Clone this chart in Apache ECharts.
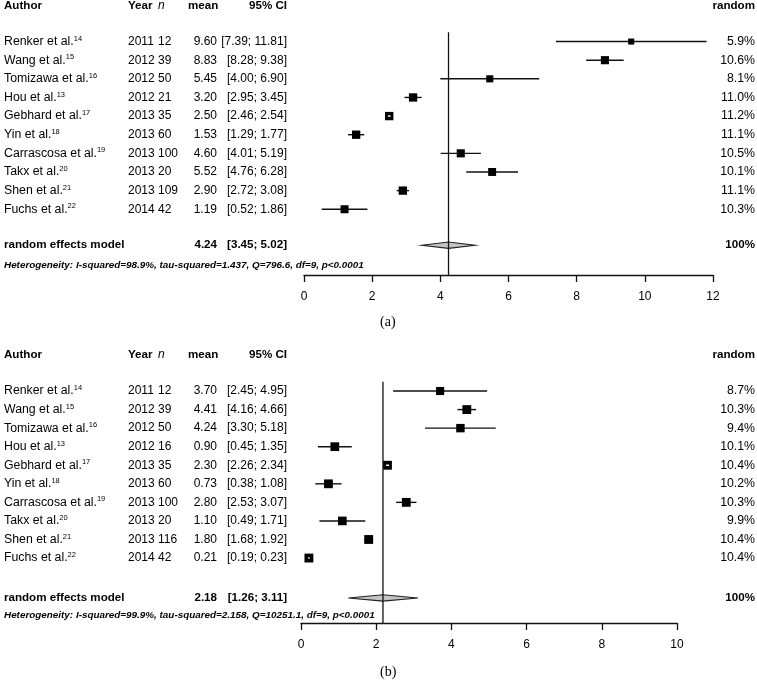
<!DOCTYPE html>
<html><head><meta charset="utf-8">
<script src="https://cdn.jsdelivr.net/npm/echarts@6/dist/echarts.min.js"></script>
<style>html,body{margin:0;padding:0;background:#fff}#c{width:757px;height:680px}</style>
</head><body><div id="c"></div>
<script>
// ---------- data ----------
const authors = ['Renker et al.', 'Wang et al.', 'Tomizawa et al.', 'Hou et al.', 'Gebhard et al.', 'Yin et al.', 'Carrascosa et al.', 'Takx et al.', 'Shen et al.', 'Fuchs et al.'];
const refs = ['14', '15', '16', '13', '17', '18', '19', '20', '21', '22'];
const years = [2011, 2012, 2012, 2012, 2013, 2013, 2013, 2013, 2013, 2014];

// panel (a)
const nA = [12, 39, 50, 21, 35, 60, 100, 20, 109, 42];
const meanA = [9.60, 8.83, 5.45, 3.20, 2.50, 1.53, 4.60, 5.52, 2.90, 1.19];
const lowerA = [7.39, 8.28, 4.00, 2.95, 2.46, 1.29, 4.01, 4.76, 2.72, 0.52];
const upperA = [11.81, 9.38, 6.90, 3.45, 2.54, 1.77, 5.19, 6.28, 3.08, 1.86];
const weightA = [5.9, 10.6, 8.1, 11.0, 11.2, 11.1, 10.5, 10.1, 11.1, 10.3];
const reA = [4.24, 3.45, 5.02];
const hetA = 'Heterogeneity: I-squared=98.9%, tau-squared=1.437, Q=796.6, df=9, p<0.0001';
const ticksA = [0, 2, 4, 6, 8, 10, 12];

// panel (b)
const nB = [12, 39, 50, 16, 35, 60, 100, 20, 116, 42];
const meanB = [3.70, 4.41, 4.24, 0.90, 2.30, 0.73, 2.80, 1.10, 1.80, 0.21];
const lowerB = [2.45, 4.16, 3.30, 0.45, 2.26, 0.38, 2.53, 0.49, 1.68, 0.19];
const upperB = [4.95, 4.66, 5.18, 1.35, 2.34, 1.08, 3.07, 1.71, 1.92, 0.23];
const weightB = [8.7, 10.3, 9.4, 10.1, 10.4, 10.2, 10.3, 9.9, 10.4, 10.4];
const reB = [2.18, 1.26, 3.11];
const hetB = 'Heterogeneity: I-squared=99.9%, tau-squared=2.158, Q=10251.1, df=9, p<0.0001';
const ticksB = [0, 2, 4, 6, 8, 10];

const headers = ['Author', 'Year', 'n', 'mean', '95% CI', 'random'];

// ---------- helpers ----------
const FF = '"Liberation Sans", Arial, sans-serif';
const REG = '12.3px ' + FF;
const NUM = '12px ' + FF;
const BOLD = 'bold 11.6px ' + FF;
const f2 = v => v.toFixed(2);
const ciText = (lo, up) => '[' + f2(lo) + '; ' + f2(up) + ']';

function buildPanel(idx, cfg) {
  const rows = cfg.mean.map((m, i) => [m, cfg.lower[i], cfg.upper[i], i, cfg.weight[i]]);
  const txt = (x, y, text, align, font) => ({
    type: 'text', x: x, y: y,
    style: { text: text, font: font || NUM, fill: '#000',
      align: align, textAlign: align, verticalAlign: 'middle', textVerticalAlign: 'middle' }
  });
  return [
    // study rows: CI line + box
    {
      type: 'custom', xAxisIndex: idx, yAxisIndex: idx, clip: false,
      data: rows,
      renderItem: function (params, api) {
        const p0 = api.coord([api.value(1), api.value(3)]);
        const p1 = api.coord([api.value(2), api.value(3)]);
        const pc = api.coord([api.value(0), api.value(3)]);
        const s = cfg.boxScale * Math.sqrt(api.value(4));
        const inside = (p1[0] - p0[0]) < s;
        const line = { type: 'line', shape: { x1: p0[0], y1: p0[1], x2: p1[0], y2: p1[1] },
          style: { stroke: inside ? '#fff' : '#111', lineWidth: 1.4 } };
        const box = { type: 'rect', shape: { x: pc[0] - s / 2, y: pc[1] - s / 2, width: s, height: s },
          style: { fill: '#000' } };
        return { type: 'group', children: inside ? [box, line] : [line, box] };
      }
    },
    // summary diamond
    {
      type: 'custom', xAxisIndex: idx, yAxisIndex: idx, clip: false,
      data: [[cfg.re[0], cfg.re[1], cfg.re[2], cfg.reRow]],
      renderItem: function (params, api) {
        const r = api.value(3);
        const a = api.coord([api.value(1), r]);
        const c = api.coord([api.value(0), r]);
        const b = api.coord([api.value(2), r]);
        const h = 3.2;
        return { type: 'polygon', shape: { points: [[a[0], a[1]], [c[0], c[1] - h], [b[0], b[1]], [c[0], c[1] + h]] },
          style: { fill: '#c4c4c4', stroke: '#222', lineWidth: 1.1 } };
      }
    },
    // vertical line at summary estimate
    {
      type: 'custom', xAxisIndex: idx, yAxisIndex: idx, clip: false,
      data: [[cfg.re[0]]],
      renderItem: function (params, api) {
        const t = api.coord([api.value(0), -0.5]);
        const bt = api.coord([api.value(0), cfg.yMax]);
        return { type: 'line', shape: { x1: t[0], y1: t[1], x2: bt[0], y2: bt[1] },
          style: { stroke: '#111', lineWidth: 1.3 } };
      }
    },
    // text columns
    {
      type: 'custom', xAxisIndex: idx, yAxisIndex: idx, clip: false, silent: true,
      data: rows,
      renderItem: function (params, api) {
        const i = params.dataIndex;
        const y = api.coord([0, api.value(3)])[1];
        return { type: 'group', children: [
          { type: 'text', x: 4, y: y, style: {
            text: '{a|' + authors[i] + '}{s|' + refs[i] + '}',
            rich: { a: { font: REG, fill: '#000', color: '#000', lineHeight: 14, verticalAlign: 'middle' },
                    s: { font: '7.5px ' + FF, fill: '#000', color: '#000', lineHeight: 14, verticalAlign: 'top' } },
            align: 'left', textAlign: 'left', verticalAlign: 'middle', textVerticalAlign: 'middle' } },
          txt(128, y, String(years[i]), 'left'),
          txt(158, y, String(cfg.n[i]), 'left'),
          txt(217, y, f2(cfg.mean[i]), 'right'),
          txt(287, y, ciText(cfg.lower[i], cfg.upper[i]), 'right'),
          txt(755, y, cfg.weight[i].toFixed(1) + '%', 'right', REG)
        ] };
      }
    },
    // header, summary and heterogeneity text rows
    {
      type: 'custom', xAxisIndex: idx, yAxisIndex: idx, clip: false, silent: true,
      data: [[0, -2]],
      renderItem: function (params, api) {
        const yh = api.coord([0, -2])[1] + 1;
        const yr = api.coord([0, cfg.reRow])[1];
        const yt = api.coord([0, cfg.hetRow])[1];
        return { type: 'group', children: [
          txt(4, yh, headers[0], 'left', BOLD),
          txt(128, yh, headers[1], 'left', BOLD),
          txt(158, yh, headers[2], 'left', 'italic 12px ' + FF),
          txt(188, yh, headers[3], 'left', BOLD),
          txt(287, yh, headers[4], 'right', BOLD),
          txt(755, yh, headers[5], 'right', BOLD),
          txt(4, yr, 'random effects model', 'left', BOLD),
          txt(217, yr, f2(cfg.re[0]), 'right', BOLD),
          txt(287, yr, ciText(cfg.re[1], cfg.re[2]), 'right', BOLD),
          txt(755, yr, '100%', 'right', BOLD),
          txt(4, yt, cfg.het, 'left', 'italic bold 9.9px ' + FF)
        ] };
      }
    }
  ];
}

const cfgA = { mean: meanA, lower: lowerA, upper: upperA, weight: weightA, n: nA, re: reA, het: hetA,
  reRow: 10.93, hetRow: 12, yMax: 12.53, boxScale: 2.5 };
const cfgB = { mean: meanB, lower: lowerB, upper: upperB, weight: weightB, n: nB, re: reB, het: hetB,
  reRow: 11.15, hetRow: 12.1, yMax: 12.5, boxScale: 2.75 };

function xAxisCfg(idx, ticks) {
  return {
    type: 'value', gridIndex: idx, min: ticks[0], max: ticks[ticks.length - 1], interval: ticks[1] - ticks[0],
    axisLine: { show: true, onZero: false, lineStyle: { color: '#111', width: 1.3 } },
    axisTick: { show: true, inside: false, length: 7, lineStyle: { color: '#111', width: 1.3 } },
    axisLabel: { color: '#000', fontSize: 12, fontFamily: FF, margin: 16 },
    splitLine: { show: false }
  };
}
function yAxisCfg(idx, yMax) {
  return { type: 'value', gridIndex: idx, inverse: true, min: -2, max: yMax, show: false, splitLine: { show: false } };
}

const chart = echarts.init(document.getElementById('c'), null, { renderer: 'canvas' });
chart.setOption({
  backgroundColor: '#fff',
  animation: false,
  grid: [
    { left: 304, width: 409, top: 4.3, height: 270.7 },
    { left: 301, width: 376, top: 353.9, height: 269.1 }
  ],
  xAxis: [xAxisCfg(0, ticksA), xAxisCfg(1, ticksB)],
  yAxis: [yAxisCfg(0, cfgA.yMax), yAxisCfg(1, cfgB.yMax)],
  graphic: [
    { type: 'text', left: 380, top: 315, style: { text: '(a)', font: '14px "Liberation Serif", "Times New Roman", serif', fill: '#000' } },
    { type: 'text', left: 380, top: 665, style: { text: '(b)', font: '14px "Liberation Serif", "Times New Roman", serif', fill: '#000' } }
  ],
  series: buildPanel(0, cfgA).concat(buildPanel(1, cfgB))
});
</script></body></html>
